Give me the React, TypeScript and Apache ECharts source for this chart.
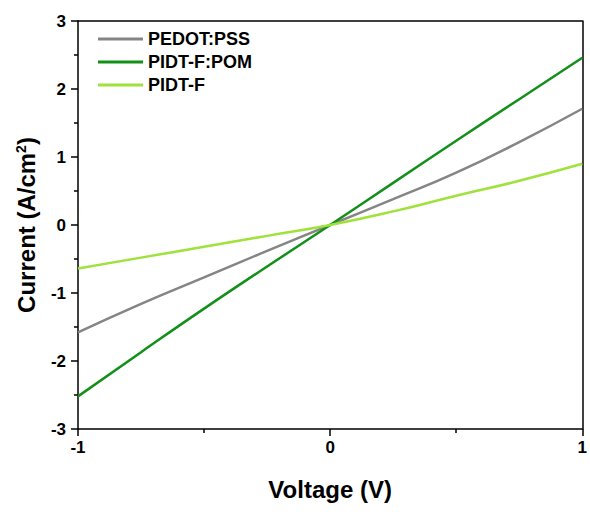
import React, { useEffect, useRef } from "react";
import * as echarts from "echarts";

const voltage = [-1, -0.75, -0.5, -0.25, 0, 0.25, 0.5, 0.75, 1];
const pedotPss = [-1.58, -1.16, -0.77, -0.38, 0, 0.38, 0.77, 1.22, 1.71];
const pidtFPom = [-2.52, -1.87, -1.23, -0.61, 0, 0.62, 1.24, 1.85, 2.46];
const pidtF = [-0.64, -0.48, -0.32, -0.16, 0, 0.2, 0.43, 0.65, 0.9];
const seriesNames = ["PEDOT:PSS", "PIDT-F:POM", "PIDT-F"];
const seriesColors = ["#858585", "#12901a", "#9fe23c"];

const FONT = "Liberation Sans, Arial, sans-serif";

export default function App() {
  const ref = useRef<HTMLDivElement>(null);
  useEffect(() => {
    if (!ref.current) return;
    const chart = echarts.init(ref.current, undefined, { renderer: "svg" });
    const datasets = [pedotPss, pidtFPom, pidtF];
    const axisLine = { show: true, onZero: false, lineStyle: { color: "#000", width: 1.5 } };
    chart.setOption({
      animation: false,
      backgroundColor: "#fff",
      grid: { left: 78, right: 5, top: 21, bottom: 85, containLabel: false },
      legend: {
        orient: "vertical",
        left: 93,
        top: 25,
        itemWidth: 45,
        itemHeight: 3,
        itemGap: 5,
        icon: "rect",
        data: seriesNames,
        textStyle: { fontFamily: FONT, fontWeight: "bold", fontSize: 18, color: "#000" },
      },
      xAxis: [
        {
          type: "value",
          min: -1,
          max: 1,
          interval: 1,
          name: "Voltage (V)",
          nameLocation: "middle",
          nameGap: 48,
          nameTextStyle: { fontFamily: FONT, fontWeight: "bold", fontSize: 24, color: "#000" },
          axisLine,
          axisTick: { show: true, inside: false, length: 7, lineStyle: { color: "#000", width: 1.5 } },
          minorTick: { show: true, splitNumber: 2, length: 4, lineStyle: { color: "#000", width: 1.5 } },
          axisLabel: { fontFamily: FONT, fontWeight: "bold", fontSize: 17, color: "#000", margin: 10 },
          splitLine: { show: false },
        },
        {
          type: "value",
          position: "top",
          min: -1,
          max: 1,
          axisLine,
          axisTick: { show: false },
          axisLabel: { show: false },
          splitLine: { show: false },
        },
      ],
      yAxis: [
        {
          type: "value",
          min: -3,
          max: 3,
          interval: 1,
          name: "{a|Current (A/cm}{s|2}{a|)}",
          nameLocation: "middle",
          nameGap: 40,
          nameTextStyle: {
            rich: {
              a: { fontFamily: FONT, fontWeight: "bold", fontSize: 24, color: "#000" },
              s: { fontFamily: FONT, fontWeight: "bold", fontSize: 14, color: "#000", verticalAlign: "top", padding: [0, 0, 10, 0] },
            },
          },
          axisLine,
          axisTick: { show: true, inside: false, length: 7, lineStyle: { color: "#000", width: 1.5 } },
          minorTick: { show: true, splitNumber: 2, length: 4, lineStyle: { color: "#000", width: 1.5 } },
          axisLabel: { fontFamily: FONT, fontWeight: "bold", fontSize: 17, color: "#000", margin: 12 },
          splitLine: { show: false },
        },
        {
          type: "value",
          position: "right",
          min: -3,
          max: 3,
          axisLine,
          axisTick: { show: false },
          axisLabel: { show: false },
          splitLine: { show: false },
        },
      ],
      series: datasets.map((d, i) => ({
        name: seriesNames[i],
        type: "line",
        smooth: true,
        showSymbol: false,
        symbol: "none",
        color: seriesColors[i],
        lineStyle: { color: seriesColors[i], width: 2.5 },
        data: voltage.map((v, j) => [v, d[j]]),
      })),
    });
    return () => chart.dispose();
  }, []);
  return <div ref={ref} style={{ position: "absolute", left: 0, top: 0, width: 590, height: 514 }} />;
}
